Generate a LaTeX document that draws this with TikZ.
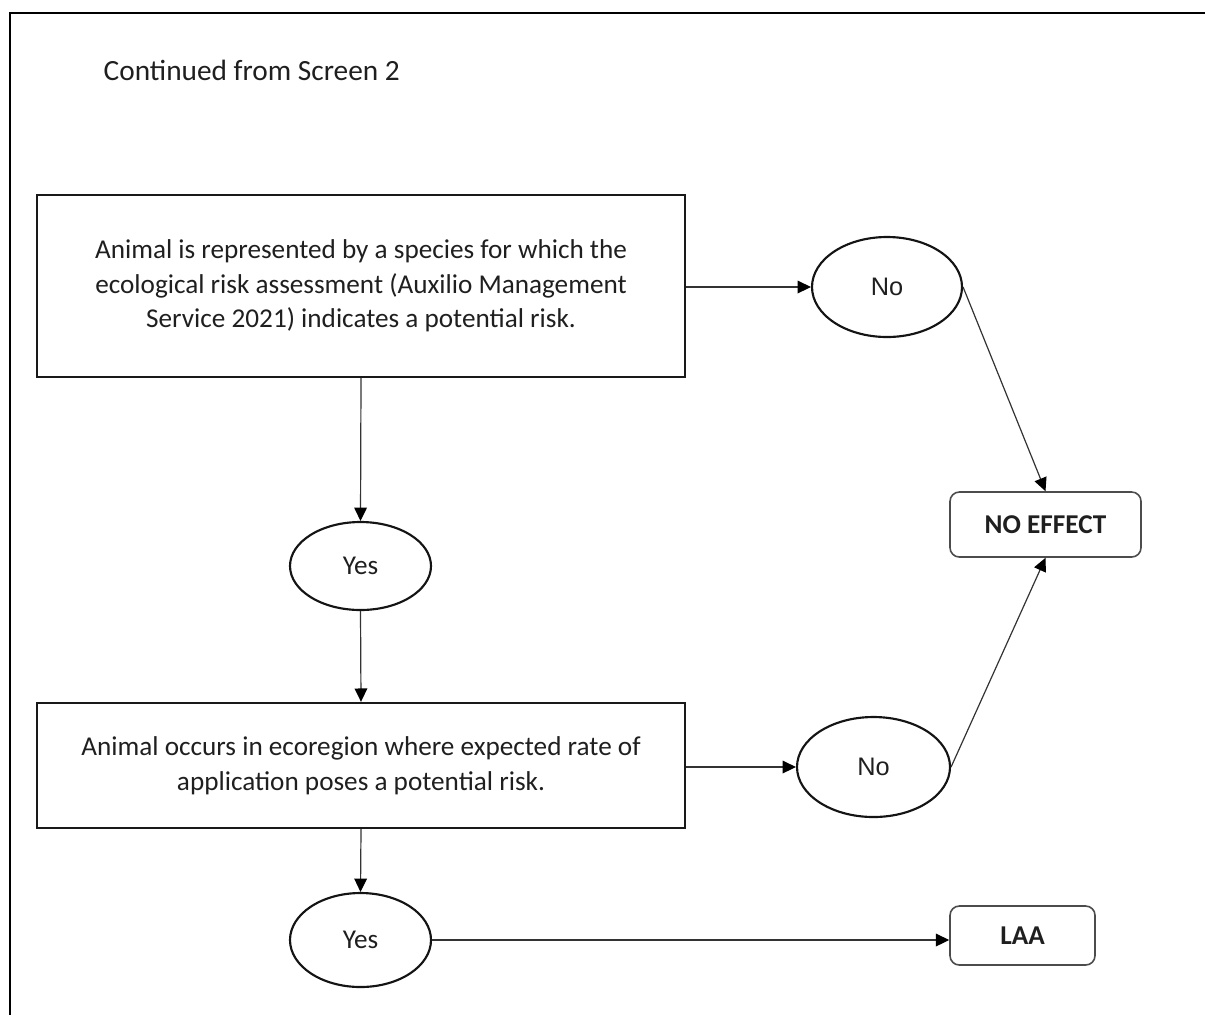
\documentclass[tikz,border=0pt]{standalone}
\usepackage{fontspec}
\setmainfont{Carlito}
\newfontfamily\arialfont{Liberation Sans}
\usetikzlibrary{arrows.meta,shapes.geometric}

\begin{document}
\begin{tikzpicture}[x=0.75pt,y=-0.75pt,
  txt/.style={font=\fontsize{20.4}{26}\selectfont, text=black!88},
  stepbox/.style={draw=black!90, line width=1.8pt, rectangle, align=center, txt, inner sep=0pt},
  answer/.style={draw=black!92, line width=1.6pt, ellipse, inner sep=0pt, txt},
  noans/.style={answer, font=\arialfont\fontsize{19}{22}\selectfont},
  outcome/.style={draw=black!70, line width=1.2pt, rectangle, rounded corners=7pt, inner sep=0pt,
    font=\fontsize{20.4}{26}\selectfont\bfseries, text=black!88},
  flow/.style={draw=black!80, line width=0.9pt, -{Triangle[length=10pt,width=9.5pt,color=black]}}
]
\useasboundingbox (0,0) rectangle (1205,1015);

% outer frame (top and left edges)
\draw[line width=1.8pt] (1205,13) -- (10,13) -- (10,1015);

\node[txt, anchor=west, font=\fontsize{22}{26}\selectfont] (title) at (99,70) {Continued from Screen 2};

% decision boxes
\node[stepbox, minimum width=486pt, minimum height=136.5pt] (box1) at (361,286)
  {Animal is represented by a species for which the\\
   ecological risk assessment (Auxilio Management\\
   Service 2021) indicates a potential risk.};
\node[stepbox, minimum width=486pt, minimum height=93.75pt] (box2) at (361,765.5)
  {Animal occurs in ecoregion where expected rate of\\
   application poses a potential risk.};

% answers
\node[noans, minimum width=112.5pt, minimum height=75pt] (no1) at (887,287) {No};
\node[noans, minimum width=114.75pt, minimum height=75pt] (no2) at (873.5,767) {No};
\node[answer, minimum width=105.75pt, minimum height=66pt] (yes1) at (360.5,566) {Yes};
\node[answer, minimum width=105.75pt, minimum height=70.5pt] (yes2) at (360.5,940) {Yes};

% outcomes
\node[outcome, minimum width=143.25pt, minimum height=48.75pt] (noeff) at (1045.5,524.5) {NO EFFECT};
\node[outcome, minimum width=108.75pt, minimum height=44.25pt] (laa) at (1022.5,935.5) {LAA};

% connectors
\draw[flow] (box1.east |- no1.west) -- (no1.west);
\draw[flow] (box1.south) -- (yes1.north);
\draw[flow] (yes1.south) -- (box2.north);
\draw[flow] (box2.east |- no2.west) -- (no2.west);
\draw[flow] (box2.south) -- (yes2.north);
\draw[flow] (yes2.east) -- (yes2.east -| laa.west);
\draw[flow] (no1.east) -- (noeff.north);
\draw[flow] (no2.east) -- (noeff.south);
\end{tikzpicture}
\end{document}
